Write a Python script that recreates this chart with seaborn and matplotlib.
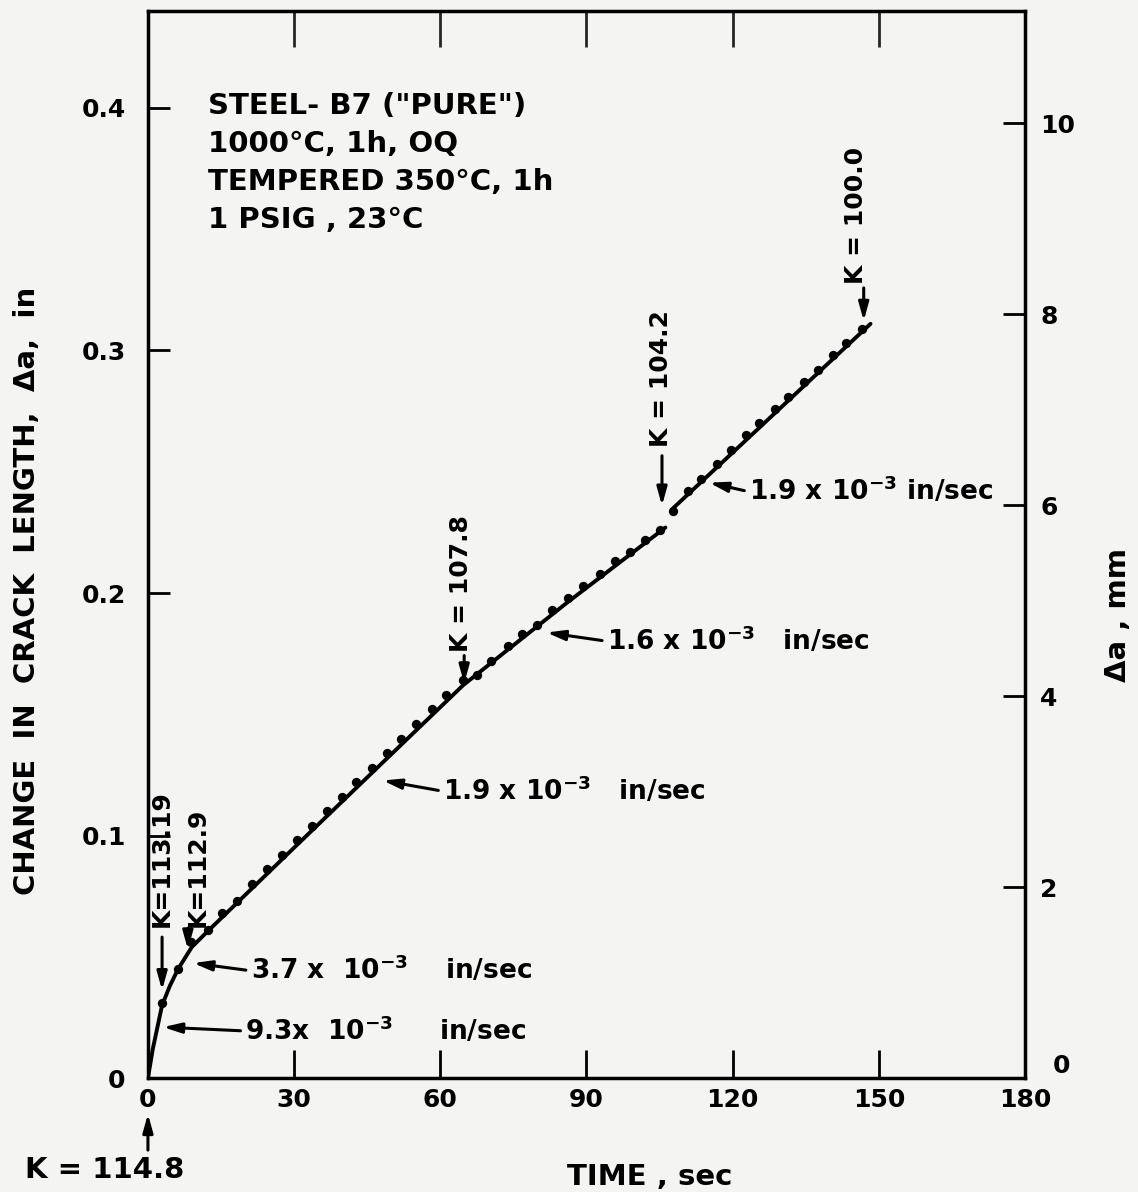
import matplotlib
matplotlib.use("Agg")
import matplotlib.pyplot as plt
import seaborn as sns
import pandas as pd

# fitted curve, first loading segment (time in sec, crack growth in inches)
fit1_time = [0, 1.0, 2.9, 4.5, 6.2, 9.0, 12.0, 30.0, 64.7, 86.0, 106.2]
fit1_da = [0, 0.012, 0.030, 0.038, 0.045, 0.054, 0.060, 0.095, 0.162, 0.196, 0.227]

# fitted curve, after K = 104.2
fit2_time = [107.8, 148.3]
fit2_da = [0.235, 0.311]

# measured points
pts1_time = [2.9, 6.2, 8.8, 12.3, 15.2, 18.3, 21.4, 24.4, 27.5, 30.6, 33.6, 36.7,
             39.8, 42.8, 45.9, 49.0, 52.0, 55.1, 58.2, 61.2, 64.7, 67.5, 70.5,
             73.8, 76.8, 79.9, 83.0, 86.2, 89.3, 92.8, 95.9, 99.0, 102.1, 105.1]
pts1_da = [0.031, 0.045, 0.056, 0.061, 0.068, 0.073, 0.080, 0.086, 0.092, 0.098,
           0.104, 0.110, 0.116, 0.122, 0.128, 0.134, 0.140, 0.146, 0.152, 0.158,
           0.164, 0.166, 0.172, 0.178, 0.183, 0.187, 0.193, 0.198, 0.203, 0.208,
           0.213, 0.217, 0.222, 0.226]
pts2_time = [107.8, 110.9, 113.6, 116.7, 119.7, 122.8, 125.5, 128.6, 131.3,
             134.7, 137.5, 140.5, 143.3, 146.6]
pts2_da = [0.234, 0.242, 0.247, 0.253, 0.259, 0.265, 0.270, 0.276, 0.281,
           0.287, 0.292, 0.298, 0.303, 0.309]

info_lines = ['STEEL- B7 ("PURE")', "1000°C, 1h, OQ", "TEMPERED 350°C, 1h", "1 PSIG , 23°C"]

# K values (label, text pos, arrow x, arrow tail y, arrow tip y)
k_labels = ["K=113.19", "K=112.9", "K = 107.8", "K = 104.2", "K = 100.0"]
k_text_x = [2.9, 10.3, 64.3, 105.2, 145.3]
k_text_y = [0.0622, 0.0622, 0.1755, 0.2600, 0.3274]
k_arrow_x = [2.9, 8.2, 64.9, 105.5, 146.9]
k_arrow_from = [0.0581, 0.0618, 0.1742, 0.2566, 0.3258]
k_arrow_to = [0.0362, 0.0530, 0.1627, 0.2360, 0.3122]

rate_labels = [r"9.3x  10$^{-3}$     in/sec", r"3.7 x  10$^{-3}$    in/sec",
               r"1.9 x 10$^{-3}$   in/sec", r"1.6 x 10$^{-3}$   in/sec",
               r"1.9 x 10$^{-3}$ in/sec"]
rate_text_xy = [(20.0, 0.0195), (21.1, 0.0445), (60.6, 0.1186), (94.2, 0.1804), (123.4, 0.2422)]
rate_tip_xy = [(3.1, 0.0210), (9.3, 0.0474), (48.2, 0.1227), (81.8, 0.1837), (115.2, 0.2455)]

sns.set_theme(style="ticks")
plt.rcParams["font.family"] = ["DejaVu Sans"]
plt.rcParams["font.weight"] = "bold"
plt.rcParams["mathtext.default"] = "bf"
plt.rcParams["text.color"] = "black"
plt.rcParams["axes.labelcolor"] = "black"

bg = "#f4f4f2"
fig = plt.figure(figsize=(11.38, 11.92), dpi=100, facecolor=bg)
ax = fig.add_axes([0.130, 0.0956, 0.7707, 0.8952])
ax.set_facecolor(bg)

fit1 = pd.DataFrame({"t": fit1_time, "da": fit1_da})
fit2 = pd.DataFrame({"t": fit2_time, "da": fit2_da})
pts = pd.DataFrame({"t": pts1_time + pts2_time, "da": pts1_da + pts2_da})

sns.lineplot(data=fit1, x="t", y="da", color="black", lw=2.8, ax=ax, sort=False)
sns.lineplot(data=fit2, x="t", y="da", color="black", lw=2.8, ax=ax)
sns.scatterplot(data=pts, x="t", y="da", color="black", s=45, edgecolor="black",
                linewidth=0, ax=ax, zorder=3)

ax.set_xlim(0, 180)
ax.set_ylim(0, 0.44)
ax.set_xticks([0, 30, 60, 90, 120, 150, 180])
ax.set_yticks([0, 0.1, 0.2, 0.3, 0.4])
ax.set_yticklabels(["0", "0.1", "0.2", "0.3", "0.4"])

for s in ax.spines.values():
    s.set_linewidth(2.5)
    s.set_color("black")

ax.tick_params(axis="x", direction="in", length=20, width=2, labelsize=18, pad=7, colors="black")
ax.tick_params(axis="y", direction="in", length=16, width=2, labelsize=18, pad=16, colors="black")

top = ax.secondary_xaxis("top")
top.set_xticks([30, 60, 90, 120, 150])
top.tick_params(direction="in", length=26, width=2, labeltop=False)

right = ax.secondary_yaxis("right", functions=(lambda a: a * 25.4, lambda m: m / 25.4))
right.set_yticks([0, 2, 4, 6, 8, 10])
right.set_yticklabels(["", "2", "4", "6", "8", "10"])
right.tick_params(direction="in", length=16, width=2, labelsize=18, pad=11, colors="black")
# zero of the mm scale sits a little above the corner
ax.text(1.042, 0.011, "0", transform=ax.transAxes, fontsize=18, ha="center", va="center")
ax.text(1.106, 0.434, "Δa , mm", transform=ax.transAxes, fontsize=21, rotation=90,
        ha="center", va="center")

ax.set_xlabel("TIME , sec", fontsize=21, fontweight="bold")
ax.xaxis.set_label_coords(0.572, -0.080)
ax.set_ylabel("CHANGE  IN  CRACK  LENGTH,  Δa,  in", fontsize=21, fontweight="bold")
ax.yaxis.set_label_coords(-0.122, 0.457)

# specimen description
for i, line in enumerate(info_lines):
    ax.text(12.4, 0.4007 - i * 0.0156, line, fontsize=21, fontweight="bold",
            va="center", ha="left")

arrow_kw = dict(arrowstyle="-|>,head_length=0.9,head_width=0.25", color="black",
                lw=2.2, shrinkA=0, shrinkB=0)

# K = 114.8 below the axis
ax.annotate("", xy=(0, -0.0148), xytext=(0, -0.0297), arrowprops=arrow_kw,
            annotation_clip=False)
ax.text(-8.9, -0.0379, "K = 114.8", fontsize=21, fontweight="bold",
        ha="center", va="center", clip_on=False)

for lab, tx, ty, axx, a0, a1 in zip(k_labels, k_text_x, k_text_y, k_arrow_x,
                                     k_arrow_from, k_arrow_to):
    ax.text(tx, ty, lab, rotation=90, fontsize=18, fontweight="bold",
            ha="center", va="bottom")
    ax.annotate("", xy=(axx, a1), xytext=(axx, a0), arrowprops=arrow_kw)

for lab, (tx, ty), tip in zip(rate_labels, rate_text_xy, rate_tip_xy):
    ax.text(tx, ty, lab, fontsize=19, fontweight="bold", ha="left", va="center")
    ax.annotate("", xy=tip, xytext=(tx - 1.0, ty), arrowprops=arrow_kw)

fig.savefig("out.png", dpi=100, facecolor=bg)
